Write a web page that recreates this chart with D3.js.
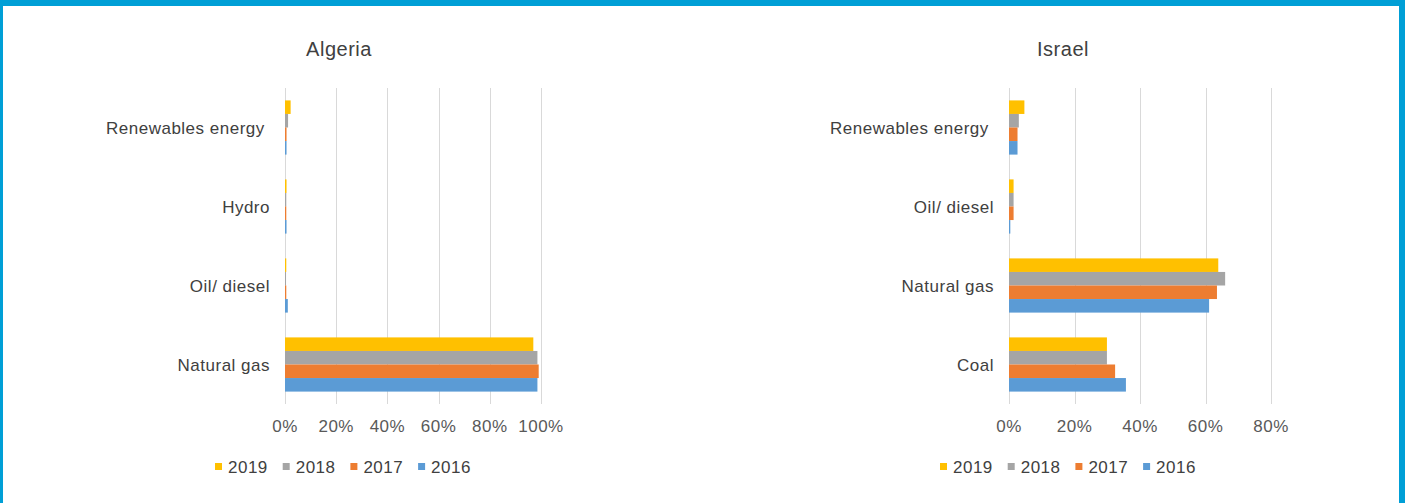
<!DOCTYPE html>
<html>
<head>
<meta charset="utf-8">
<script src="https://cdn.jsdelivr.net/npm/d3@7"></script>
<style>
  html, body { margin: 0; padding: 0; background: #fff; }
  svg { display: block; }
  text { font-family: "Liberation Sans", Arial, sans-serif; letter-spacing: 0.5px; white-space: pre; }
</style>
</head>
<body>
<svg id="chart" width="1405" height="503"></svg>
<script>
// Electricity generation mix by source, share of total (%)
const years = ["2019", "2018", "2017", "2016"];
const yearColors = ["#FFC000", "#A5A5A5", "#ED7D31", "#5B9BD5"];

const algeriaSources = ["Renewables energy ", "Hydro", "Oil/ diesel", "Natural gas"];
const algeria2019 = [2.2, 0.6, 0.5, 97.0];
const algeria2018 = [1.2, 0.5, 0.4, 98.6];
const algeria2017 = [0.6, 0.5, 0.5, 99.1];
const algeria2016 = [0.6, 0.6, 1.1, 98.6];
const algeriaTicks = [0, 20, 40, 60, 80, 100];

const israelSources = ["Renewables energy ", "Oil/ diesel", "Natural gas", "Coal"];
const israel2019 = [4.7, 1.4, 63.9, 29.9];
const israel2018 = [3.0, 1.4, 66.0, 29.9];
const israel2017 = [2.6, 1.4, 63.5, 32.4];
const israel2016 = [2.6, 0.4, 61.1, 35.7];
const israelTicks = [0, 20, 40, 60, 80];

const svg = d3.select("#chart");

// frame
const frame = "#009FD6";
svg.append("rect").attr("x", 0).attr("y", 0).attr("width", 1405).attr("height", 6).attr("fill", frame);
svg.append("rect").attr("x", 0).attr("y", 0).attr("width", 3).attr("height", 503).attr("fill", frame);
svg.append("rect").attr("x", 1399).attr("y", 0).attr("width", 6).attr("height", 503).attr("fill", frame);

function drawPanel(opt) {
  const g = svg.append("g");
  const x = d3.scaleLinear().domain([0, opt.ticks[opt.ticks.length - 1]]).range([opt.x0, opt.x1]);
  const y = d3.scaleBand().domain(opt.sources).range([88, 404]).paddingInner(0.314).paddingOuter(0.157);
  const yy = d3.scaleBand().domain(years).range([0, y.bandwidth()]);

  // title
  g.append("text").attr("x", opt.titleX).attr("y", 56).attr("text-anchor", "middle")
    .attr("font-size", 20).attr("fill", "#404040").text(opt.title);

  // gridlines
  g.selectAll("line.grid").data(opt.ticks).join("line")
    .attr("x1", d => Math.round(x(d)) + 0.5).attr("x2", d => Math.round(x(d)) + 0.5)
    .attr("y1", 88).attr("y2", 404)
    .attr("stroke", "#D9D9D9").attr("stroke-width", 1);

  // tick labels
  g.selectAll("text.tick").data(opt.ticks).join("text")
    .attr("x", d => x(d)).attr("y", 432).attr("text-anchor", "middle")
    .attr("font-size", 17).attr("fill", "#595959").text(d => d + "%");

  // category labels
  g.selectAll("text.cat").data(opt.sources).join("text")
    .attr("x", opt.x0 - 15).attr("y", d => y(d) + y.bandwidth() / 2 + 6)
    .attr("text-anchor", "end").attr("font-size", 17).attr("fill", "#404040").text(d => d);

  // bars
  const rows = [];
  opt.sources.forEach((s, i) => {
    years.forEach((yr, j) => rows.push({ source: s, year: yr, color: yearColors[j], value: opt.series[j][i] }));
  });
  g.selectAll("rect.bar").data(rows).join("rect")
    .attr("x", x(0))
    .attr("y", d => y(d.source) + yy(d.year))
    .attr("width", d => x(d.value) - x(0))
    .attr("height", yy.bandwidth())
    .attr("fill", d => d.color);

  // legend
  const lg = g.append("g").attr("transform", `translate(${opt.legendX},0)`);
  const item = lg.selectAll("g").data(years).join("g")
    .attr("transform", (d, i) => `translate(${i * 67.7},0)`);
  item.append("rect").attr("x", 0).attr("y", 463).attr("width", 7).attr("height", 7)
    .attr("fill", (d, i) => yearColors[i]);
  item.append("text").attr("x", 13).attr("y", 472.5).attr("font-size", 17).attr("fill", "#404040").text(d => d);
}

drawPanel({
  title: "Algeria", titleX: 339, x0: 285, x1: 541, legendX: 215,
  sources: algeriaSources, ticks: algeriaTicks,
  series: [algeria2019, algeria2018, algeria2017, algeria2016]
});

drawPanel({
  title: "Israel", titleX: 1063, x0: 1009, x1: 1271, legendX: 940,
  sources: israelSources, ticks: israelTicks,
  series: [israel2019, israel2018, israel2017, israel2016]
});
</script>
</body>
</html>
